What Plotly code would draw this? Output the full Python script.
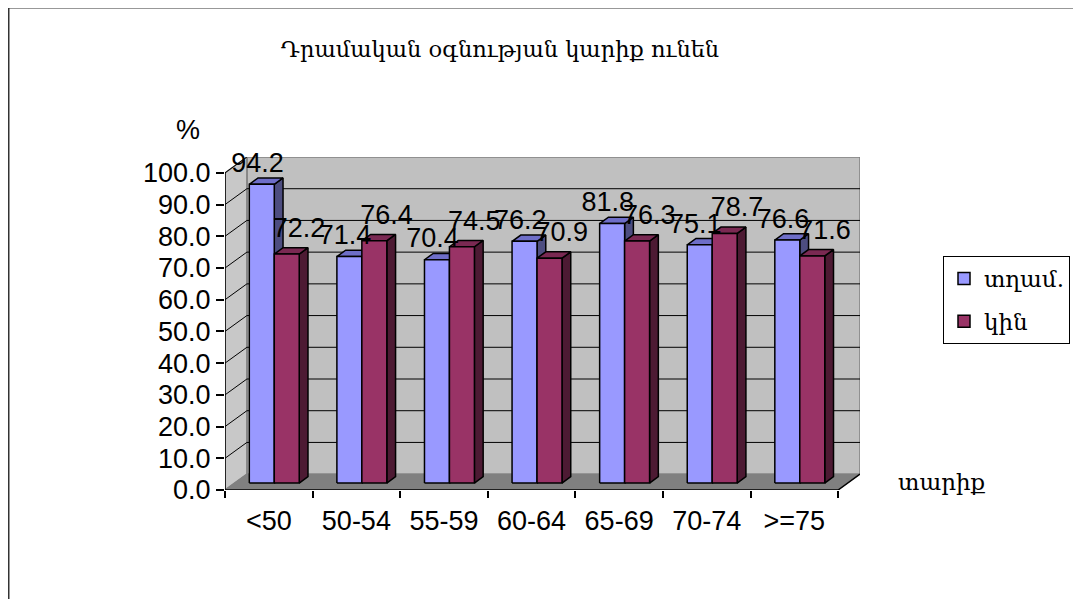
import plotly.graph_objects as go

# data
categories = ["<50", "50-54", "55-59", "60-64", "65-69", "70-74", ">=75"]
men = [94.2, 71.4, 70.4, 76.2, 81.8, 75.1, 76.6]
women = [72.2, 76.4, 74.5, 70.9, 76.3, 78.7, 71.6]
y_ticks = [0, 10, 20, 30, 40, 50, 60, 70, 80, 90, 100]

title_text = "Դրամական օգնության կարիք ունեն"
names = ["տղամ.", "կին"]

# fake 3d geometry (axis units)
DX, DY = 0.25, 5.0          # wall depth
BASE = 2.2                  # bars sit a little behind the front plane
BW = 0.285                  # bar width
SDX, SDY = 0.1, 2.0         # bar side / top depth

NUM = "Liberation Sans, Arial, sans-serif"
SERIF = "DejaVu Serif, serif"

# page body has an 8px margin, so the figure is drawn 8px smaller / shifted
PAD = 8
W, H = 1081 - PAD, 599 - PAD
PL, PR, PT, PB = 225, 860, 157, 490   # plot area in page pixels


def px_x(p):
    return (p - PL) / (PR - PL)


def px_y(p):
    return (PB - p) / (PB - PT)


def bar_faces(offset, vals):
    fx, fy, tx, ty, sx, sy = [], [], [], [], [], []
    for i, v in enumerate(vals):
        xl = i + offset - BW / 2
        xr = i + offset + BW / 2
        t = BASE + v
        fx += [xl, xr, xr, xl, xl, None]
        fy += [BASE, BASE, t, t, BASE, None]
        tx += [xl, xr, xr + SDX, xl + SDX, xl, None]
        ty += [t, t, t + SDY, t + SDY, t, None]
        sx += [xr, xr + SDX, xr + SDX, xr, xr, None]
        sy += [BASE, BASE + SDY, t + SDY, t, BASE, None]
    return (fx, fy), (tx, ty), (sx, sy)


def poly(xy, color):
    return go.Scatter(x=xy[0], y=xy[1], mode="lines", fill="toself",
                      fillcolor=color, line=dict(color="black", width=1.5),
                      showlegend=False, hoverinfo="skip")


fig = go.Figure()

# values, bar offset, colours (front, top, side), label dx, label dy
series = [
    (men, -0.08, ("#9999FF", "#6E6EC8", "#4D4D80"), -0.05, 6.0),
    (women, 0.205, ("#993366", "#7A2952", "#4D1A33"), 0.14, 7.5),
]
for vals, off, (c_front, c_top, c_side), lx, ly in series:
    f, t, s = bar_faces(off, vals)
    fig.add_trace(poly(s, c_side))
    fig.add_trace(poly(t, c_top))
    fig.add_trace(poly(f, c_front))

for vals, off, cols, lx, ly in series:
    fig.add_trace(go.Scatter(
        x=[i + off + lx for i in range(len(vals))],
        y=[v + BASE + ly for v in vals],
        mode="text", text=[f"{v:.1f}" for v in vals],
        textfont=dict(family=NUM, size=27, color="black"),
        cliponaxis=False, showlegend=False, hoverinfo="skip"))

# legend entries
for name, (vals, off, cols, lx, ly) in zip(names, series):
    fig.add_trace(go.Bar(x=[None], y=[None], name=name, legendgroup=name,
                         marker=dict(color=cols[0], line=dict(color="black", width=1.5))))

shapes = []
x0, x1 = -0.5, len(categories) - 0.5
# back wall
shapes.append(dict(type="rect", xref="x", yref="y", x0=x0 + DX, x1=x1 + DX, y0=DY, y1=100 + DY,
                   fillcolor="#C0C0C0", line=dict(color="#808080", width=1.5), layer="below"))
# left wall
shapes.append(dict(type="path", xref="x", yref="y",
                   path=f"M {x0},0 L {x0 + DX},{DY} L {x0 + DX},{100 + DY} L {x0},100 Z",
                   fillcolor="#C8C8C8", line=dict(color="#808080", width=1.5), layer="below"))
# floor
shapes.append(dict(type="path", xref="x", yref="y",
                   path=f"M {x0},0 L {x1},0 L {x1 + DX},{DY} L {x0 + DX},{DY} Z",
                   fillcolor="#808080", line=dict(color="#808080", width=1), layer="below"))
# gridlines on walls
for v in y_ticks[1:-1]:
    shapes.append(dict(type="line", xref="x", yref="y", x0=x0 + DX, x1=x1 + DX, y0=v + DY, y1=v + DY,
                       line=dict(color="black", width=1), layer="below"))
for v in y_ticks[1:]:
    shapes.append(dict(type="line", xref="x", yref="y", x0=x0, x1=x0 + DX, y0=v, y1=v + DY,
                       line=dict(color="black", width=1), layer="below"))
# axis lines
shapes.append(dict(type="line", xref="x", yref="y", x0=x0, x1=x0, y0=0, y1=100,
                   line=dict(color="black", width=1.5)))
shapes.append(dict(type="line", xref="x", yref="y", x0=x0, x1=x1, y0=0, y1=0,
                   line=dict(color="black", width=1.5)))
shapes.append(dict(type="line", xref="x", yref="y", x0=x1, x1=x1 + DX, y0=0, y1=DY,
                   line=dict(color="black", width=1.5)))
# outer chart border
shapes.append(dict(type="rect", xref="paper", yref="paper", x0=px_x(8.5), x1=1.4,
                   y0=-0.4, y1=px_y(7.5),
                   line=dict(color="#333333", width=2), fillcolor="rgba(0,0,0,0)"))

fig.update_layout(
    width=W, height=H,
    margin=dict(l=PL - PAD, r=W - (PR - PAD), t=PT - PAD, b=H - (PB - PAD), autoexpand=False),
    paper_bgcolor="white", plot_bgcolor="white",
    shapes=shapes,
    showlegend=True,
    legend=dict(x=px_x(943), y=px_y(256), xanchor="left", yanchor="top",
                bordercolor="black", borderwidth=1, bgcolor="white",
                font=dict(family=SERIF, size=23, color="black"),
                tracegroupgap=10, itemwidth=30),
    title=dict(text=title_text, x=(500 - PAD) / W, y=1 - (49 - PAD) / H,
               xanchor="center", yanchor="middle",
               font=dict(family=SERIF, size=22.5, color="black")),
    xaxis=dict(range=[x0, x1 + DX], showgrid=False, zeroline=False, showline=False,
               tickmode="array", tickvals=list(range(len(categories))), ticktext=categories,
               ticks="", ticklabelstandoff=12,
               tickfont=dict(family=NUM, size=27, color="black"),
               minor=dict(tickmode="array", tickvals=[i - 0.5 for i in range(len(categories) + 1)],
                          ticks="outside", ticklen=7, tickcolor="black", tickwidth=1.5, showgrid=False)),
    yaxis=dict(range=[0, 100 + DY], showgrid=False, zeroline=False, showline=False,
               tickmode="array", tickvals=y_ticks, ticktext=[f"{v:.1f}" for v in y_ticks],
               ticks="outside", ticklen=8, tickcolor="black", tickwidth=1.5,
               tickfont=dict(family=NUM, size=27, color="black")),
    annotations=[
        dict(text="%", xref="paper", yref="paper", x=px_x(188), y=px_y(130),
             xanchor="center", yanchor="middle",
             showarrow=False, font=dict(family=NUM, size=27, color="black")),
        dict(text="տարիք", xref="paper", yref="paper", x=px_x(942), y=px_y(482),
             xanchor="center", yanchor="middle",
             showarrow=False, font=dict(family=SERIF, size=23, color="black")),
    ],
)

fig.write_html("out.html")
